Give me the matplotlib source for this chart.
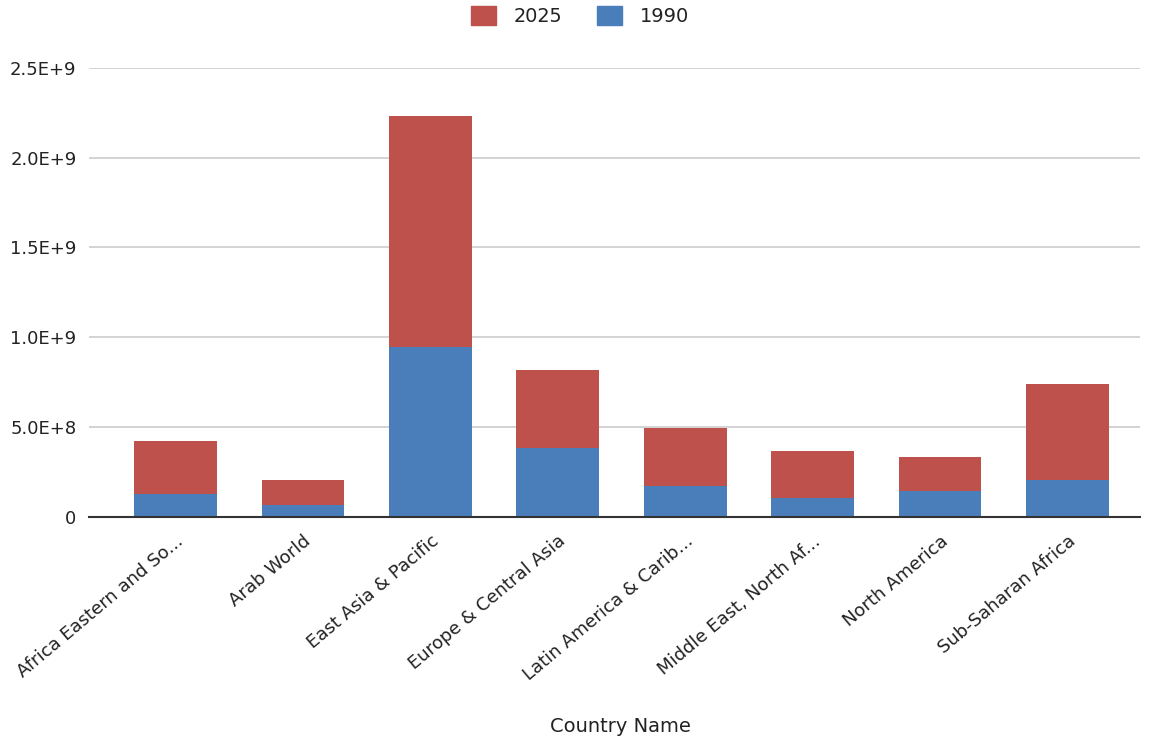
import matplotlib
matplotlib.use("Agg")
import matplotlib.pyplot as plt
from matplotlib.patches import Patch
from matplotlib.ticker import FuncFormatter

regions = ["Africa Eastern and So...", "Arab World", "East Asia & Pacific",
           "Europe & Central Asia", "Latin America & Carib...",
           "Middle East, North Af...", "North America", "Sub-Saharan Africa"]
pop_1990 = [0.125e9, 0.0635e9, 0.947e9, 0.384e9, 0.173e9, 0.106e9, 0.143e9, 0.206e9]
pop_2025 = [0.298e9, 0.139e9, 1.287e9, 0.433e9, 0.321e9, 0.260e9, 0.191e9, 0.532e9]
y_ticks = [0, 0.5e9, 1.0e9, 1.5e9, 2.0e9, 2.5e9]

RED = "#BE514C"
BLUE = "#4A7EBB"
INK = "#222222"
FS = 13

plt.rcParams["font.family"] = ["DejaVu Sans"]

fig = plt.figure(figsize=(11.53, 7.42), dpi=100)
ax = fig.add_axes([0.0772, 0.3036, 0.9115, 0.6048])

x = list(range(len(regions)))
ax.bar(x, pop_1990, width=0.65, color=BLUE, zorder=3)
ax.bar(x, pop_2025, width=0.65, bottom=pop_1990, color=RED, zorder=3)

ax.set_xlim(-0.68, 7.57)
ax.set_ylim(0, 2.5e9)
ax.set_yticks(y_ticks)


def fmt(v, _):
    if v == 0:
        return "0"
    return f"{v:.1E}".replace("E+0", "E+")


ax.yaxis.set_major_formatter(FuncFormatter(fmt))
ax.grid(axis="y", color="#CCCCCC", lw=1.2, zorder=0)
ax.set_axisbelow(True)
for s in ("top", "right", "left"):
    ax.spines[s].set_visible(False)
ax.spines["bottom"].set_color("#333333")
ax.spines["bottom"].set_linewidth(1.5)
ax.spines["bottom"].set_zorder(4)
ax.tick_params(axis="both", length=0, labelsize=FS, labelcolor=INK)
ax.tick_params(axis="y", pad=9)
ax.tick_params(axis="x", pad=11)

# reference is drawn slightly stretched sideways, so 40 deg reads like its labels
ax.set_xticks(x)
ax.set_xticklabels(regions, rotation=40, ha="right", rotation_mode="anchor")
fig.text(0.538, 1 - 727 / 742, "Country Name", fontsize=14, color=INK,
         ha="center", va="center")

handles = [Patch(color=RED, label="2025"), Patch(color=BLUE, label="1990")]
fig.legend(handles=handles, loc="center", bbox_to_anchor=(0.503, 1 - 16 / 742),
           ncol=2, frameon=False, fontsize=13.9, handlelength=1.3,
           handleheight=1.1, handletextpad=0.93, columnspacing=1.76,
           labelcolor=INK)

fig.savefig("out.png", dpi=100)
